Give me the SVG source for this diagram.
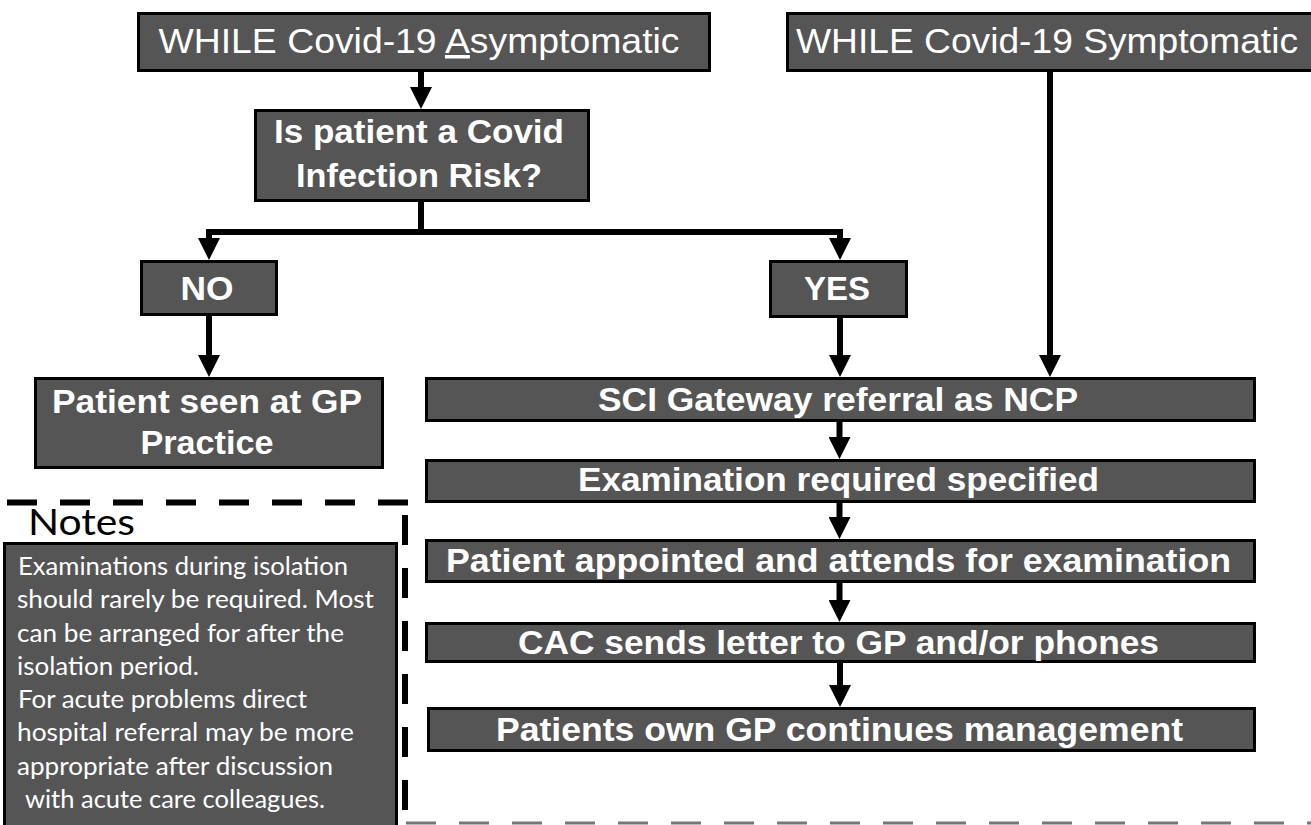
<svg xmlns="http://www.w3.org/2000/svg" width="1311" height="825" viewBox="0 0 1311 825">
  <style>
    .box { fill: #555555; stroke: #000000; stroke-width: 3; }
    .t { fill: #ffffff; font-family: "Liberation Sans", Arial, sans-serif; text-anchor: middle; }
    .reg { font-size: 35px; font-weight: normal; }
    .bold { font-size: 34px; font-weight: bold; }
    .note { fill: #ffffff; font-family: Lato, "Open Sans", sans-serif; font-size: 25px; }
    .conn { stroke: #000000; stroke-width: 6; fill: none; }
    .dash { stroke: #000000; stroke-width: 6; fill: none; stroke-dasharray: 30 23; }
  </style>
  <defs>
    <marker id="ah" markerUnits="userSpaceOnUse" markerWidth="24" markerHeight="22" refX="0" refY="11" orient="auto" viewBox="0 0 24 22">
      <path d="M0,0 L22,11 L0,22 z" fill="#000000"/>
    </marker>
  </defs>

  <rect width="1311" height="825" fill="#ffffff"/>

  <g id="notes-frame">
    <line class="dash" x1="7" y1="502.5" x2="409" y2="502.5"/>
    <line class="dash" x1="405" y1="502" x2="405" y2="830" style="stroke-dashoffset:40"/>
    <line x1="406" y1="823" x2="1311" y2="823" stroke="#777777" stroke-width="3" stroke-dasharray="30 23"/>
  </g>

  <g id="connectors">
    <line class="conn" x1="421" y1="72" x2="421" y2="87" marker-end="url(#ah)"/>
    <polyline class="conn" points="421,202 421,232 209,232 209,238" marker-end="url(#ah)"/>
    <polyline class="conn" points="421,232 840,232 840,238" marker-end="url(#ah)"/>
    <line class="conn" x1="209" y1="316" x2="209" y2="355" marker-end="url(#ah)"/>
    <line class="conn" x1="840" y1="318" x2="840" y2="355" marker-end="url(#ah)"/>
    <line class="conn" x1="1050" y1="72" x2="1050" y2="355" marker-end="url(#ah)"/>
    <line class="conn" x1="839.5" y1="422" x2="839.5" y2="437" marker-end="url(#ah)"/>
    <line class="conn" x1="839.5" y1="503" x2="839.5" y2="517" marker-end="url(#ah)"/>
    <line class="conn" x1="839.5" y1="583" x2="839.5" y2="600" marker-end="url(#ah)"/>
    <line class="conn" x1="840" y1="663" x2="840" y2="685" marker-end="url(#ah)"/>
  </g>

  <g id="asymptomatic">
    <rect class="box" x="138.5" y="13.5" width="571" height="57"/>
    <text class="t reg" x="419" y="53" textLength="521" lengthAdjust="spacingAndGlyphs">WHILE Covid-19 <tspan text-decoration="underline">A</tspan>symptomatic</text>
  </g>

  <g id="symptomatic">
    <rect class="box" x="787.5" y="13.5" width="530" height="57"/>
    <text class="t reg" x="1047" y="53" textLength="502" lengthAdjust="spacingAndGlyphs">WHILE Covid-19 Symptomatic</text>
  </g>

  <g id="question">
    <rect class="box" x="255.5" y="110.5" width="333" height="90"/>
    <text class="t bold" x="419" y="143" textLength="290" lengthAdjust="spacingAndGlyphs">Is patient a Covid</text>
    <text class="t bold" x="419" y="187" textLength="246" lengthAdjust="spacingAndGlyphs">Infection Risk?</text>
  </g>

  <g id="no">
    <rect class="box" x="141.5" y="261.5" width="135" height="53"/>
    <text class="t bold" x="207" y="300" textLength="53" lengthAdjust="spacingAndGlyphs">NO</text>
  </g>

  <g id="yes">
    <rect class="box" x="770.5" y="261.5" width="136" height="55"/>
    <text class="t bold" x="837" y="300" textLength="66" lengthAdjust="spacingAndGlyphs">YES</text>
  </g>

  <g id="gp-practice">
    <rect class="box" x="35.5" y="378.5" width="347" height="89"/>
    <text class="t bold" x="207" y="413" textLength="310" lengthAdjust="spacingAndGlyphs">Patient seen at GP</text>
    <text class="t bold" x="207" y="454" textLength="133" lengthAdjust="spacingAndGlyphs">Practice</text>
  </g>

  <g id="sci-gateway">
    <rect class="box" x="426.5" y="378.5" width="828" height="42"/>
    <text class="t bold" x="838" y="411" textLength="480" lengthAdjust="spacingAndGlyphs">SCI Gateway referral as NCP</text>
  </g>

  <g id="exam-specified">
    <rect class="box" x="426.5" y="460.5" width="828" height="41"/>
    <text class="t bold" x="838.5" y="491" textLength="521" lengthAdjust="spacingAndGlyphs">Examination required specified</text>
  </g>

  <g id="appointed">
    <rect class="box" x="426.5" y="540.5" width="828" height="41"/>
    <text class="t bold" x="838.5" y="572" textLength="785" lengthAdjust="spacingAndGlyphs">Patient appointed and attends for examination</text>
  </g>

  <g id="cac-letter">
    <rect class="box" x="426.5" y="623.5" width="828" height="38"/>
    <text class="t bold" x="838.5" y="654" textLength="641" lengthAdjust="spacingAndGlyphs">CAC sends letter to GP and/or phones</text>
  </g>

  <g id="gp-continues">
    <rect class="box" x="428.5" y="708.5" width="826" height="42"/>
    <text class="t bold" x="839.5" y="741" textLength="687" lengthAdjust="spacingAndGlyphs">Patients own GP continues management</text>
  </g>

  <g id="notes">
    <text x="28" y="535" font-family="Lato, 'Open Sans', sans-serif" font-size="37" fill="#000000" textLength="107" lengthAdjust="spacingAndGlyphs">Notes</text>
    <rect class="box" x="4.5" y="543.5" width="392" height="300"/>
    <text class="note" x="18" y="575" textLength="330" lengthAdjust="spacingAndGlyphs">Examinations during isolation</text>
    <text class="note" x="17" y="608" textLength="357" lengthAdjust="spacingAndGlyphs">should rarely be required. Most</text>
    <text class="note" x="17" y="642" textLength="327" lengthAdjust="spacingAndGlyphs">can be arranged for after the</text>
    <text class="note" x="17" y="675" textLength="182" lengthAdjust="spacingAndGlyphs">isolation period.</text>
    <text class="note" x="18" y="708" textLength="289" lengthAdjust="spacingAndGlyphs">For acute problems direct</text>
    <text class="note" x="17" y="741" textLength="337" lengthAdjust="spacingAndGlyphs">hospital referral may be more</text>
    <text class="note" x="17" y="775" textLength="316" lengthAdjust="spacingAndGlyphs">appropriate after discussion</text>
    <text class="note" x="25" y="808" textLength="300" lengthAdjust="spacingAndGlyphs">with acute care colleagues.</text>
  </g>
</svg>
